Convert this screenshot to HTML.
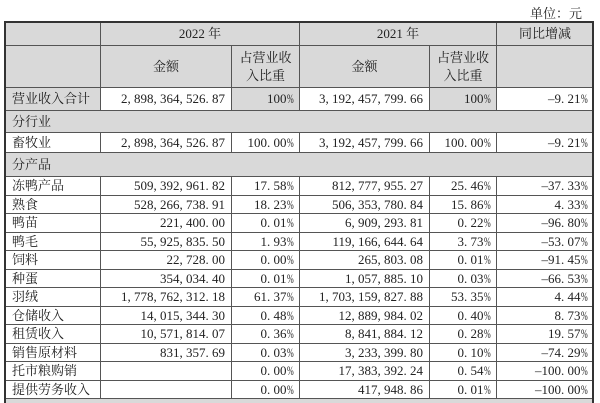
<!DOCTYPE html>
<html><head><meta charset="utf-8">
<style>
html,body{margin:0;padding:0;background:#fff;width:600px;height:403px;overflow:hidden;}
body{position:relative;font-family:"Liberation Serif","Noto Serif CJK SC",serif;font-size:13px;color:#222;}
.c{position:absolute;box-sizing:border-box;border:1px solid #555;display:flex;align-items:center;background:#fff;white-space:nowrap;line-height:18px;}
.g{background:#d9d9d9;}
.l{justify-content:flex-start;padding-left:6px;}
.r{justify-content:flex-end;padding-right:6px;}
.m{justify-content:center;text-align:center;}
b{display:inline-block;width:6.5px;font-weight:normal;text-align:left;}
b.d{text-align:center;}
s{display:inline-block;width:6.5px;text-decoration:none;transform:scaleX(.62);transform-origin:0 50%;}
#outer{position:absolute;left:4px;top:21px;width:590px;height:382px;box-sizing:border-box;border:2px solid #333;border-bottom:none;z-index:5;}
#unit{position:absolute;right:18px;top:5px;line-height:18px;}
</style></head><body>
<div id="unit">单位：元</div>
<div id="outer"></div>

<!-- r0 22-45 -->
<div class="c g" style="left:5px;top:22px;width:96px;height:24px"></div>
<div class="c g m" style="left:100px;top:22px;width:200px;height:24px">2022 年</div>
<div class="c g m" style="left:299px;top:22px;width:198px;height:24px">2021 年</div>
<div class="c g m" style="left:496px;top:22px;width:98px;height:24px">同比增减</div>
<!-- r1 45-87 -->
<div class="c g" style="left:5px;top:45px;width:96px;height:43px"></div>
<div class="c g m" style="left:100px;top:45px;width:132px;height:43px">金额</div>
<div class="c g m" style="left:231px;top:45px;width:69px;height:43px">占营业收<br>入比重</div>
<div class="c g m" style="left:299px;top:45px;width:131px;height:43px">金额</div>
<div class="c g m" style="left:429px;top:45px;width:68px;height:43px">占营业收<br>入比重</div>
<div class="c g" style="left:496px;top:45px;width:98px;height:43px"></div>
<!-- r2 87-110 -->
<div class="c g l" style="left:5px;top:87px;width:96px;height:24px">营业收入合计</div>
<div class="c r" style="left:100px;top:87px;width:132px;height:24px">2<b>,</b>898<b>,</b>364<b>,</b>526<b>.</b>87</div>
<div class="c g r" style="left:231px;top:87px;width:69px;height:24px">100<s>%</s></div>
<div class="c r" style="left:299px;top:87px;width:131px;height:24px">3<b>,</b>192<b>,</b>457<b>,</b>799<b>.</b>66</div>
<div class="c g r" style="left:429px;top:87px;width:68px;height:24px">100<s>%</s></div>
<div class="c r" style="left:496px;top:87px;width:98px;height:24px"><b class="d">–</b>9<b>.</b>21<s>%</s></div>
<!-- r3 110-132 -->
<div class="c g l" style="left:5px;top:110px;width:589px;height:23px">分行业</div>
<!-- r4 132-152 -->
<div class="c l" style="left:5px;top:132px;width:96px;height:21px">畜牧业</div>
<div class="c r" style="left:100px;top:132px;width:132px;height:21px">2<b>,</b>898<b>,</b>364<b>,</b>526<b>.</b>87</div>
<div class="c r" style="left:231px;top:132px;width:69px;height:21px">100<b>.</b>00<s>%</s></div>
<div class="c r" style="left:299px;top:132px;width:131px;height:21px">3<b>,</b>192<b>,</b>457<b>,</b>799<b>.</b>66</div>
<div class="c r" style="left:429px;top:132px;width:68px;height:21px">100<b>.</b>00<s>%</s></div>
<div class="c r" style="left:496px;top:132px;width:98px;height:21px"><b class="d">–</b>9<b>.</b>21<s>%</s></div>
<!-- r5 152-176 -->
<div class="c g l" style="left:5px;top:152px;width:589px;height:25px">分产品</div>

<!-- r6 176-195 -->
<div class="c l" style="left:5px;top:176px;width:96px;height:20px">冻鸭产品</div>
<div class="c r" style="left:100px;top:176px;width:132px;height:20px">509<b>,</b>392<b>,</b>961<b>.</b>82</div>
<div class="c r" style="left:231px;top:176px;width:69px;height:20px">17<b>.</b>58<s>%</s></div>
<div class="c r" style="left:299px;top:176px;width:131px;height:20px">812<b>,</b>777<b>,</b>955<b>.</b>27</div>
<div class="c r" style="left:429px;top:176px;width:68px;height:20px">25<b>.</b>46<s>%</s></div>
<div class="c r" style="left:496px;top:176px;width:98px;height:20px"><b class="d">–</b>37<b>.</b>33<s>%</s></div>
<!-- r7 195-213 -->
<div class="c l" style="left:5px;top:195px;width:96px;height:19px">熟食</div>
<div class="c r" style="left:100px;top:195px;width:132px;height:19px">528<b>,</b>266<b>,</b>738<b>.</b>91</div>
<div class="c r" style="left:231px;top:195px;width:69px;height:19px">18<b>.</b>23<s>%</s></div>
<div class="c r" style="left:299px;top:195px;width:131px;height:19px">506<b>,</b>353<b>,</b>780<b>.</b>84</div>
<div class="c r" style="left:429px;top:195px;width:68px;height:19px">15<b>.</b>86<s>%</s></div>
<div class="c r" style="left:496px;top:195px;width:98px;height:19px">4<b>.</b>33<s>%</s></div>
<!-- r8 213-232 -->
<div class="c l" style="left:5px;top:213px;width:96px;height:20px">鸭苗</div>
<div class="c r" style="left:100px;top:213px;width:132px;height:20px">221<b>,</b>400<b>.</b>00</div>
<div class="c r" style="left:231px;top:213px;width:69px;height:20px">0<b>.</b>01<s>%</s></div>
<div class="c r" style="left:299px;top:213px;width:131px;height:20px">6<b>,</b>909<b>,</b>293<b>.</b>81</div>
<div class="c r" style="left:429px;top:213px;width:68px;height:20px">0<b>.</b>22<s>%</s></div>
<div class="c r" style="left:496px;top:213px;width:98px;height:20px"><b class="d">–</b>96<b>.</b>80<s>%</s></div>
<!-- r9 232-250 -->
<div class="c l" style="left:5px;top:232px;width:96px;height:19px">鸭毛</div>
<div class="c r" style="left:100px;top:232px;width:132px;height:19px">55<b>,</b>925<b>,</b>835<b>.</b>50</div>
<div class="c r" style="left:231px;top:232px;width:69px;height:19px">1<b>.</b>93<s>%</s></div>
<div class="c r" style="left:299px;top:232px;width:131px;height:19px">119<b>,</b>166<b>,</b>644<b>.</b>64</div>
<div class="c r" style="left:429px;top:232px;width:68px;height:19px">3<b>.</b>73<s>%</s></div>
<div class="c r" style="left:496px;top:232px;width:98px;height:19px"><b class="d">–</b>53<b>.</b>07<s>%</s></div>
<!-- r10 250-269 -->
<div class="c l" style="left:5px;top:250px;width:96px;height:20px">饲料</div>
<div class="c r" style="left:100px;top:250px;width:132px;height:20px">22<b>,</b>728<b>.</b>00</div>
<div class="c r" style="left:231px;top:250px;width:69px;height:20px">0<b>.</b>00<s>%</s></div>
<div class="c r" style="left:299px;top:250px;width:131px;height:20px">265<b>,</b>803<b>.</b>08</div>
<div class="c r" style="left:429px;top:250px;width:68px;height:20px">0<b>.</b>01<s>%</s></div>
<div class="c r" style="left:496px;top:250px;width:98px;height:20px"><b class="d">–</b>91<b>.</b>45<s>%</s></div>
<!-- r11 269-287 -->
<div class="c l" style="left:5px;top:269px;width:96px;height:19px">种蛋</div>
<div class="c r" style="left:100px;top:269px;width:132px;height:19px">354<b>,</b>034<b>.</b>40</div>
<div class="c r" style="left:231px;top:269px;width:69px;height:19px">0<b>.</b>01<s>%</s></div>
<div class="c r" style="left:299px;top:269px;width:131px;height:19px">1<b>,</b>057<b>,</b>885<b>.</b>10</div>
<div class="c r" style="left:429px;top:269px;width:68px;height:19px">0<b>.</b>03<s>%</s></div>
<div class="c r" style="left:496px;top:269px;width:98px;height:19px"><b class="d">–</b>66<b>.</b>53<s>%</s></div>
<!-- r12 287-306 -->
<div class="c l" style="left:5px;top:287px;width:96px;height:20px">羽绒</div>
<div class="c r" style="left:100px;top:287px;width:132px;height:20px">1<b>,</b>778<b>,</b>762<b>,</b>312<b>.</b>18</div>
<div class="c r" style="left:231px;top:287px;width:69px;height:20px">61<b>.</b>37<s>%</s></div>
<div class="c r" style="left:299px;top:287px;width:131px;height:20px">1<b>,</b>703<b>,</b>159<b>,</b>827<b>.</b>88</div>
<div class="c r" style="left:429px;top:287px;width:68px;height:20px">53<b>.</b>35<s>%</s></div>
<div class="c r" style="left:496px;top:287px;width:98px;height:20px">4<b>.</b>44<s>%</s></div>
<!-- r13 306-324 -->
<div class="c l" style="left:5px;top:306px;width:96px;height:19px">仓储收入</div>
<div class="c r" style="left:100px;top:306px;width:132px;height:19px">14<b>,</b>015<b>,</b>344<b>.</b>30</div>
<div class="c r" style="left:231px;top:306px;width:69px;height:19px">0<b>.</b>48<s>%</s></div>
<div class="c r" style="left:299px;top:306px;width:131px;height:19px">12<b>,</b>889<b>,</b>984<b>.</b>02</div>
<div class="c r" style="left:429px;top:306px;width:68px;height:19px">0<b>.</b>40<s>%</s></div>
<div class="c r" style="left:496px;top:306px;width:98px;height:19px">8<b>.</b>73<s>%</s></div>
<!-- r14 324-343 -->
<div class="c l" style="left:5px;top:324px;width:96px;height:20px">租赁收入</div>
<div class="c r" style="left:100px;top:324px;width:132px;height:20px">10<b>,</b>571<b>,</b>814<b>.</b>07</div>
<div class="c r" style="left:231px;top:324px;width:69px;height:20px">0<b>.</b>36<s>%</s></div>
<div class="c r" style="left:299px;top:324px;width:131px;height:20px">8<b>,</b>841<b>,</b>884<b>.</b>12</div>
<div class="c r" style="left:429px;top:324px;width:68px;height:20px">0<b>.</b>28<s>%</s></div>
<div class="c r" style="left:496px;top:324px;width:98px;height:20px">19<b>.</b>57<s>%</s></div>
<!-- r15 343-361 -->
<div class="c l" style="left:5px;top:343px;width:96px;height:19px">销售原材料</div>
<div class="c r" style="left:100px;top:343px;width:132px;height:19px">831<b>,</b>357<b>.</b>69</div>
<div class="c r" style="left:231px;top:343px;width:69px;height:19px">0<b>.</b>03<s>%</s></div>
<div class="c r" style="left:299px;top:343px;width:131px;height:19px">3<b>,</b>233<b>,</b>399<b>.</b>80</div>
<div class="c r" style="left:429px;top:343px;width:68px;height:19px">0<b>.</b>10<s>%</s></div>
<div class="c r" style="left:496px;top:343px;width:98px;height:19px"><b class="d">–</b>74<b>.</b>29<s>%</s></div>
<!-- r16 361-380 -->
<div class="c l" style="left:5px;top:361px;width:96px;height:20px">托市粮购销</div>
<div class="c r" style="left:100px;top:361px;width:132px;height:20px"></div>
<div class="c r" style="left:231px;top:361px;width:69px;height:20px">0<b>.</b>00<s>%</s></div>
<div class="c r" style="left:299px;top:361px;width:131px;height:20px">17<b>,</b>383<b>,</b>392<b>.</b>24</div>
<div class="c r" style="left:429px;top:361px;width:68px;height:20px">0<b>.</b>54<s>%</s></div>
<div class="c r" style="left:496px;top:361px;width:98px;height:20px"><b class="d">–</b>100<b>.</b>00<s>%</s></div>
<!-- r17 380-398 -->
<div class="c l" style="left:5px;top:380px;width:96px;height:19px">提供劳务收入</div>
<div class="c r" style="left:100px;top:380px;width:132px;height:19px"></div>
<div class="c r" style="left:231px;top:380px;width:69px;height:19px">0<b>.</b>00<s>%</s></div>
<div class="c r" style="left:299px;top:380px;width:131px;height:19px">417<b>,</b>948<b>.</b>86</div>
<div class="c r" style="left:429px;top:380px;width:68px;height:19px">0<b>.</b>01<s>%</s></div>
<div class="c r" style="left:496px;top:380px;width:98px;height:19px"><b class="d">–</b>100<b>.</b>00<s>%</s></div>
<!-- r18 398-403 -->
<div class="c g" style="left:5px;top:398px;width:589px;height:5px;border-bottom:none"></div>
</body></html>
